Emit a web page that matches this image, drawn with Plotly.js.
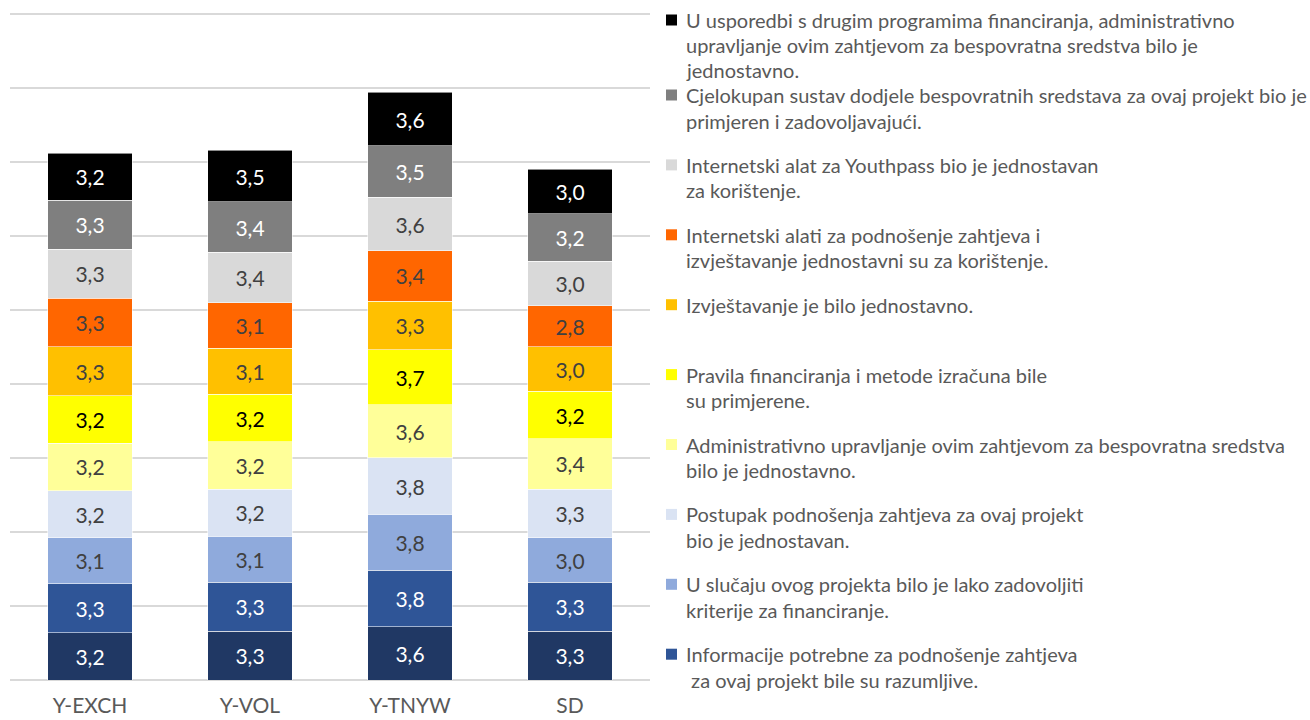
<!DOCTYPE html>
<html>
<head>
<meta charset="utf-8">
<script src="https://cdn.plot.ly/plotly-3.0.1.min.js"></script>
<style>html,body{margin:0;padding:0;background:#fff;}#chart{width:1310px;height:720px;}</style>
</head>
<body>
<div id="chart"></div>
<script>
// ---- data ----
const categories = ['Y-EXCH', 'Y-VOL', 'Y-TNYW', 'SD'];

// series, bottom of stack to top
const seriesNames = [
  'Informacije (bez legende)',
  'Informacije potrebne za podnošenje zahtjeva\n za ovaj projekt bile su razumljive.',
  'U slučaju ovog projekta bilo je lako zadovoljiti\nkriterije za financiranje.',
  'Postupak podnošenja zahtjeva za ovaj projekt\nbio je jednostavan.',
  'Administrativno upravljanje ovim zahtjevom za bespovratna sredstva\nbilo je jednostavno.',
  'Pravila financiranja i metode izračuna bile\nsu primjerene.',
  'Izvještavanje je bilo jednostavno.',
  'Internetski alati za podnošenje zahtjeva i\nizvještavanje jednostavni su za korištenje.',
  'Internetski alat za Youthpass bio je jednostavan\nza korištenje.',
  'Cjelokupan sustav dodjele bespovratnih sredstava za ovaj projekt bio je\nprimjeren i zadovoljavajući.',
  'U usporedbi s drugim programima financiranja, administrativno\nupravljanje ovim zahtjevom za bespovratna sredstva bilo je\njednostavno.'
];
const showInLegend = [false, true, true, true, true, true, true, true, true, true, true];

const s01 = [3.2, 3.3, 3.6, 3.3];
const s02 = [3.3, 3.3, 3.8, 3.3];
const s03 = [3.1, 3.1, 3.8, 3.0];
const s04 = [3.2, 3.2, 3.8, 3.3];
const s05 = [3.2, 3.2, 3.6, 3.4];
const s06 = [3.2, 3.2, 3.7, 3.2];
const s07 = [3.3, 3.1, 3.3, 3.0];
const s08 = [3.3, 3.1, 3.4, 2.8];
const s09 = [3.3, 3.4, 3.6, 3.0];
const s10 = [3.3, 3.4, 3.5, 3.2];
const s11 = [3.2, 3.5, 3.6, 3.0];
const seriesValues = [s01, s02, s03, s04, s05, s06, s07, s08, s09, s10, s11];

// ---- styles ----
const colors = ['#203864', '#2F5597', '#8FAADC', '#DAE3F3', '#FFFF99', '#FFFF00', '#FFC000', '#FF6600', '#D9D9D9', '#7F7F7F', '#000000'];
const labelColors = ['#FFFFFF', '#FFFFFF', '#404040', '#404040', '#404040', '#000000', '#404040', '#404040', '#404040', '#FFFFFF', '#FFFFFF'];
const FONT = 'Lato, Carlito, "Open Sans", sans-serif';

const traces = seriesValues.map((vals, i) => ({
  type: 'bar',
  x: categories,
  y: vals,
  name: seriesNames[i].replace(/\n/g, ' '),
  marker: {color: colors[i], line: {color: 'rgba(255,255,255,0.55)', width: 1}},
  texttemplate: '%{y:.1f}',
  textposition: 'inside',
  insidetextanchor: 'middle',
  textangle: 0,
  textfont: {family: FONT, size: 21, color: labelColors[i]},
  showlegend: false,
  hoverinfo: 'skip'
}));

// plot area in pixels
const W = 1310, H = 720;
const PL = 10, PR = 650, PT = 11, PB = 680;
const px2x = p => (p - PL) / (PR - PL);
const py2y = p => (PB - p) / (PB - PT);

// custom legend (top entry first)
const annotations = [];
const shapes = [];
const legendOrder = [];
for (let i = seriesNames.length - 1; i >= 0; i--) if (showInLegend[i]) legendOrder.push(i);
legendOrder.forEach((si, k) => {
  const y0 = k === 0 ? 20 : 95 + (k - 1) * 69.9;
  const lineStep = k === 0 ? 25 : 25.5;
  shapes.push({type: 'rect', xref: 'paper', yref: 'paper',
    x0: px2x(666), x1: px2x(677), y0: py2y(y0 + 5.5), y1: py2y(y0 - 5.5),
    fillcolor: colors[si], line: {width: 0}});
  seriesNames[si].split('\n').forEach((ln, j) => {
    annotations.push({xref: 'paper', yref: 'paper', x: px2x(684), y: py2y(y0 + j * lineStep),
      xanchor: 'left', yanchor: 'middle', showarrow: false,
      text: ln.replace(/^ /, '&nbsp;'), font: {family: FONT, size: 20, color: '#595959'}});
  });
});

const layout = {
  width: W, height: H,
  margin: {l: PL, r: W - PR, t: PT, b: H - PB, pad: 0},
  paper_bgcolor: '#ffffff', plot_bgcolor: '#ffffff',
  barmode: 'stack',
  bargap: 0.47,
  separators: ',.',
  showlegend: false,
  font: {family: FONT, color: '#595959'},
  xaxis: {
    type: 'category', showgrid: false, zeroline: false, showline: false,
    ticks: 'outside', ticklen: 7, tickcolor: 'rgba(0,0,0,0)',
    tickfont: {family: FONT, size: 21, color: '#595959'}
  },
  yaxis: {
    range: [0, 45.2], dtick: 5, tick0: 0, showticklabels: false,
    showgrid: true, gridcolor: '#D9D9D9', gridwidth: 1.5,
    zeroline: true, zerolinecolor: '#D9D9D9', zerolinewidth: 1.5, showline: false, ticks: ''
  },
  annotations: annotations,
  shapes: shapes
};

Plotly.newPlot('chart', traces, layout, {displayModeBar: false, staticPlot: true});
</script>
</body>
</html>
